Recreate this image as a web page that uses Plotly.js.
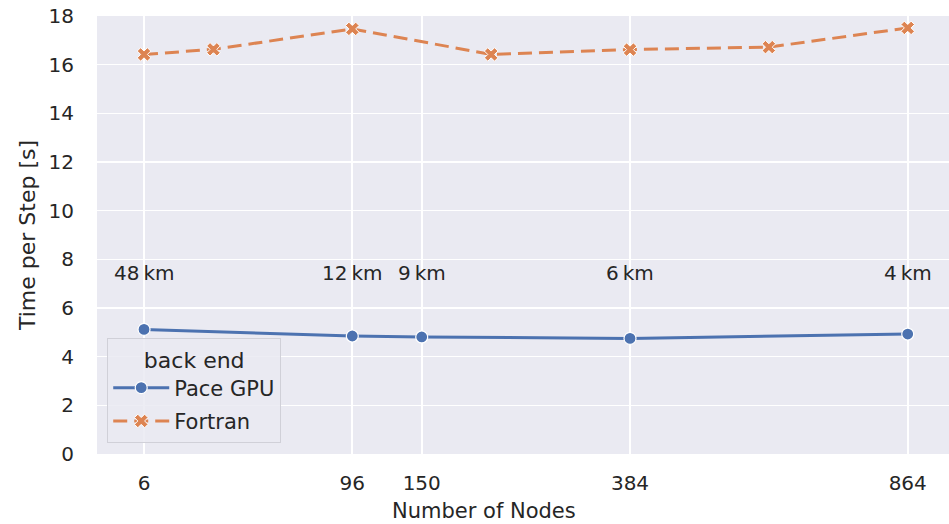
<!DOCTYPE html>
<html>
<head>
<meta charset="utf-8">
<script src="https://cdn.plot.ly/plotly-3.0.1.min.js"></script>
<style>html,body{margin:0;padding:0;background:#fff;}#chart{width:949px;height:524px;}</style>
</head>
<body>
<div id="chart"></div>
<script>
// Data
const paceNodes = [6, 96, 150, 384, 864];
const paceTime = [5.12, 4.85, 4.81, 4.75, 4.93];
const fortranNodes = [6, 24, 96, 216, 384, 600, 864];
const fortranTime = [16.42, 16.63, 17.47, 16.42, 16.62, 16.72, 17.51];
const tickNodes = [6, 96, 150, 384, 864];
const resolutionLabels = ["48\u2009km", "12\u2009km", "9\u2009km", "6\u2009km", "4\u2009km"];
const resolutionLabelY = 7.45;

// x axis drawn on a square-root scale of node count
const sq = v => Math.sqrt(v);

const textColor = '#262626';
const font = 'DejaVu Sans, Liberation Sans, sans-serif';

const traces = [
  {
    x: paceNodes.map(sq), y: paceTime, name: 'Pace GPU', legendgroup: 'pace',
    mode: 'lines+markers', type: 'scatter',
    line: {color: '#4c72b0', width: 3},
    marker: {symbol: 'circle', size: 12, color: '#4c72b0', line: {color: '#ffffff', width: 1.2}}
  },
  {
    x: fortranNodes.map(sq), y: fortranTime, name: 'Fortran', legendgroup: 'fortran',
    mode: 'lines+markers', type: 'scatter',
    line: {color: '#dd8452', width: 3, dash: '14px,7px'},
    marker: {symbol: 'x', size: 12, color: '#dd8452', line: {color: '#ffffff', width: 1}}
  }
];

const annotations = paceNodes.map((n, i) => ({
  x: sq(n), y: resolutionLabelY, xref: 'x', yref: 'y',
  text: resolutionLabels[i], showarrow: false,
  font: {family: font, size: 20, color: textColor},
  xanchor: 'center', yanchor: 'middle'
}));
annotations.push({
  x: 0.454, y: -0.13, xref: 'paper', yref: 'paper',
  text: 'Number of Nodes', showarrow: false,
  font: {family: font, size: 21, color: textColor},
  xanchor: 'center', yanchor: 'middle'
});

const layout = {
  width: 949, height: 524,
  margin: {l: 97, r: 0, t: 16, b: 70},
  paper_bgcolor: '#ffffff',
  plot_bgcolor: '#eaeaf2',
  font: {family: font, color: textColor},
  showlegend: true,
  legend: {
    x: 0.012, y: 0.265, xanchor: 'left', yanchor: 'top',
    bgcolor: 'rgba(234,234,242,0.85)', bordercolor: '#d0d0d8', borderwidth: 1,
    font: {family: font, size: 21, color: textColor},
    title: {text: 'back end', side: 'top center', font: {family: font, size: 22, color: textColor}},
    itemwidth: 56, tracegroupgap: 3
  },
  xaxis: {
    range: [0.791, 30.85],
    tickmode: 'array',
    tickvals: tickNodes.map(sq),
    ticktext: tickNodes.map(String),
    showgrid: true, gridcolor: '#ffffff', gridwidth: 1.6,
    zeroline: false, showline: false,
    ticks: 'outside', ticklen: 11, tickcolor: 'rgba(0,0,0,0)',
    tickfont: {family: font, size: 20, color: textColor}
  },
  yaxis: {
    range: [0, 18], dtick: 2, tick0: 0,
    showgrid: true, gridcolor: '#ffffff', gridwidth: 1.6,
    zeroline: false, showline: false,
    ticks: 'outside', ticklen: 18, tickcolor: 'rgba(0,0,0,0)',
    tickfont: {family: font, size: 20, color: textColor},
    title: {text: 'Time per Step [s]', font: {family: font, size: 22, color: textColor}, standoff: 6}
  },
  annotations: annotations
};

Plotly.newPlot('chart', traces, layout, {displayModeBar: false, staticPlot: true});
</script>
</body>
</html>
